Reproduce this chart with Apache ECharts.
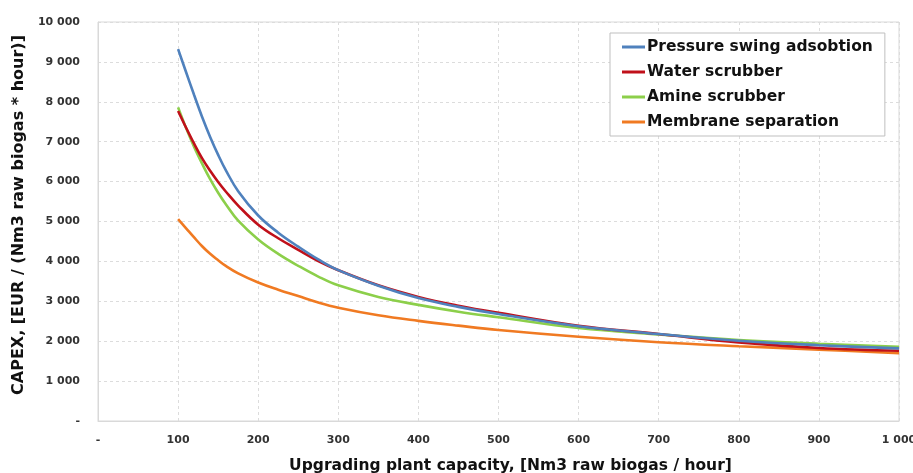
<!DOCTYPE html>
<html>
<head>
<meta charset="utf-8">
<script src="https://cdn.jsdelivr.net/npm/echarts@6/dist/echarts.min.js"></script>
<style>html,body{margin:0;padding:0;background:#fff}#c{width:913px;height:473px}</style>
</head>
<body>
<div id="c"></div>
<script>
const capacities = [100, 110, 120, 130, 140, 150, 160, 175, 200, 225, 250, 275, 300, 350, 400, 450, 500, 600, 700, 800, 900, 1000];
const psa      = [9320, 8740, 8170, 7620, 7120, 6670, 6270, 5760, 5150, 4720, 4370, 4050, 3780, 3390, 3080, 2860, 2680, 2375, 2180, 2010, 1900, 1820];
const water    = [7770, 7350, 6950, 6580, 6270, 5990, 5740, 5400, 4920, 4580, 4290, 4010, 3780, 3400, 3110, 2890, 2710, 2385, 2180, 1970, 1830, 1760];
const amine    = [7860, 7340, 6870, 6450, 6060, 5720, 5420, 5020, 4550, 4190, 3890, 3620, 3400, 3110, 2910, 2740, 2600, 2330, 2170, 2030, 1935, 1860];
const membrane = [5060, 4830, 4600, 4380, 4190, 4030, 3880, 3700, 3470, 3290, 3130, 2970, 2840, 2650, 2510, 2390, 2280, 2110, 1975, 1875, 1790, 1700];
const seriesNames = ['Pressure swing adsobtion', 'Water scrubber', 'Amine scrubber', 'Membrane separation'];
const xTickLabels = ['-', '100', '200', '300', '400', '500', '600', '700', '800', '900', '1 000'];
const yTickLabels = ['-', '1 000', '2 000', '3 000', '4 000', '5 000', '6 000', '7 000', '8 000', '9 000', '10 000'];
const xTitle = 'Upgrading plant capacity, [Nm3 raw biogas / hour]';
const yTitle = 'CAPEX, [EUR / (Nm3 raw biogas * hour)]';

const colors = ['#4f81bd', '#c0101a', '#8ccf4a', '#f07a22'];
const font = 'DejaVu Sans';
function pairs(vals) { return capacities.map((c, i) => [c, vals[i]]); }
const allVals = [psa, water, amine, membrane];

const chart = echarts.init(document.getElementById('c'), null, {renderer: 'canvas'});
chart.setOption({
  animation: false,
  backgroundColor: '#fff',
  grid: {left: 98, right: 14, top: 22, bottom: 52, show: true, borderColor: '#d9d9d9', borderWidth: 1,
    outerBoundsMode: 'none', containLabel: false},
  legend: {
    orient: 'vertical', left: 610, top: 33,
    backgroundColor: '#fff', borderColor: '#bfbfbf', borderWidth: 1,
    padding: [6, 12, 6, 12], itemGap: 9,
    icon: 'rect', itemWidth: 23, itemHeight: 3,
    textStyle: {fontFamily: font, fontWeight: 'bold', fontSize: 15.5, color: '#111', padding: [0, 0, 0, -3]},
    data: seriesNames
  },
  xAxis: {
    type: 'value', min: 0, max: 1000, interval: 100,
    name: xTitle, nameLocation: 'middle', nameGap: 37,
    nameTextStyle: {fontFamily: font, fontWeight: 'bold', fontSize: 15.5, color: '#111', padding: [0, 0, 0, 24]},
    axisLine: {show: true, lineStyle: {color: '#d9d9d9'}},
    axisTick: {show: false},
    axisLabel: {fontFamily: font, fontWeight: 'bold', fontSize: 11, color: '#333', margin: 14,
      formatter: v => xTickLabels[Math.round(v / 100)]},
    splitLine: {show: true, lineStyle: {color: '#dcdcdc', type: [3, 3]}}
  },
  yAxis: {
    type: 'value', min: 0, max: 10000, interval: 1000,
    name: yTitle, nameLocation: 'middle', nameGap: 70, nameRotate: 90,
    nameTextStyle: {fontFamily: font, fontWeight: 'bold', fontSize: 16, color: '#111', padding: [0, 0, 0, 13]},
    axisLine: {show: true, lineStyle: {color: '#d9d9d9'}},
    axisTick: {show: false},
    axisLabel: {fontFamily: font, fontWeight: 'bold', fontSize: 11, color: '#333', margin: 18,
      formatter: v => yTickLabels[Math.round(v / 1000)]},
    splitLine: {show: true, lineStyle: {color: '#dcdcdc', type: [3, 3]}}
  },
  series: seriesNames.map((n, i) => ({
    name: n, type: 'line', data: pairs(allVals[i]), smooth: 0.4,
    showSymbol: false, symbol: 'none',
    lineStyle: {color: colors[i], width: 2.6}, itemStyle: {color: colors[i]},
    z: 10 - i
  }))
});
</script>
</body>
</html>
